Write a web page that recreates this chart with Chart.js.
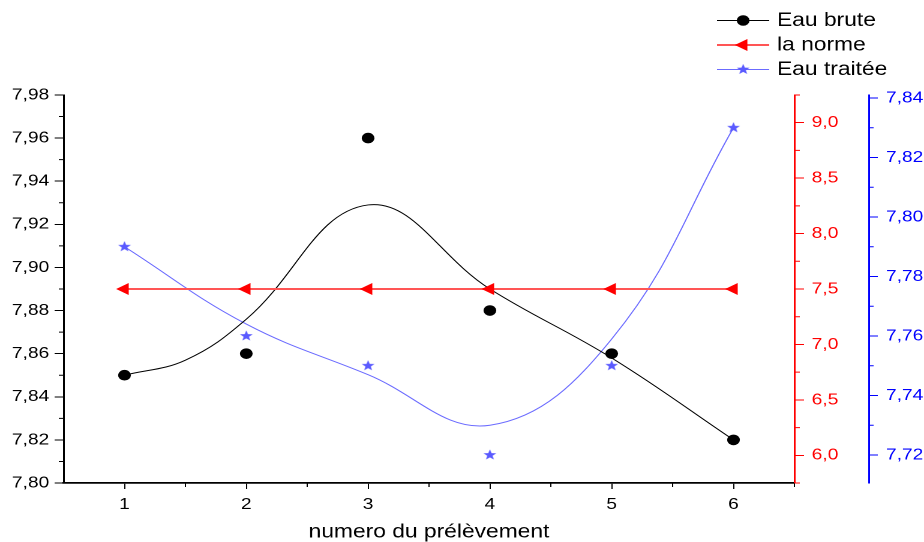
<!DOCTYPE html>
<html><head><meta charset="utf-8">
<script src="https://cdn.jsdelivr.net/npm/chart.js@4/dist/chart.umd.min.js"></script>
<style>
html,body{margin:0;padding:0;background:#fff;overflow:hidden;}
#wrap{position:absolute;left:0;top:0;width:770px;height:542px;transform:scaleX(1.2);transform-origin:0 0;}
canvas{display:block;}
</style></head><body>
<div id="wrap"><canvas id="c" width="770" height="542" style="width:770px;height:542px"></canvas></div>
<script>
// ---- data ----
const categories = [1, 2, 3, 4, 5, 6];
const eauBrute = [7.85, 7.86, 7.96, 7.88, 7.86, 7.82];
const laNorme = [7.5, 7.5, 7.5, 7.5, 7.5, 7.5];
const eauTraitee = [7.79, 7.76, 7.75, 7.72, 7.75, 7.83];
// smoothed curves drawn in the reference
const bruteFitX = [1, 1.5, 2, 3, 4, 5, 6];
const eauBruteFit = [7.85, 7.857, 7.876, 7.929, 7.890, 7.858, 7.82];
const traiteeFitX = [1, 2, 3, 4, 5, 6];
const eauTraiteeFit = [7.79, 7.764, 7.747, 7.730, 7.759, 7.83];
// ticks
const xTicks = [1, 2, 3, 4, 5, 6];
const xMinor = [1.5, 2.5, 3.5, 4.5, 5.5, 6.5];
const leftTicks = [7.80, 7.82, 7.84, 7.86, 7.88, 7.90, 7.92, 7.94, 7.96, 7.98];
const leftMinor = [7.81, 7.83, 7.85, 7.87, 7.89, 7.91, 7.93, 7.95, 7.97];
const redTicks = [6.0, 6.5, 7.0, 7.5, 8.0, 8.5, 9.0];
const redMinor = [5.75, 6.25, 6.75, 7.25, 7.75, 8.25, 8.75, 9.25];
const blueTicks = [7.72, 7.74, 7.76, 7.78, 7.80, 7.82, 7.84];
const blueMinor = [7.73, 7.75, 7.77, 7.79, 7.81, 7.83];
const seriesNames = ['Eau brute', 'la norme', 'Eau traitée'];
const xTitle = 'numero du prélèvement';

const FONT = 'Liberation Sans, Arial, sans-serif';
const BLUE_MARK = '#5a5aff';
const BLUE_LINE = '#6b6bff';
const RED_LINE = 'rgb(255,85,85)';

function makeStar(color, R) {
  const s = 4, size = Math.ceil(2 * R + 2);
  const c = document.createElement('canvas');
  c.width = size * s; c.height = size * s;
  const g = c.getContext('2d');
  g.scale(s, s); g.translate(size / 2, size / 2);
  g.beginPath();
  const r = R * 0.42;
  for (let i = 0; i < 10; i++) {
    const a = -Math.PI / 2 + i * Math.PI / 5;
    const rr = i % 2 ? r : R;
    g.lineTo(Math.cos(a) * rr, Math.sin(a) * rr);
  }
  g.closePath(); g.fillStyle = color; g.fill();
  const img = new Image();
  img.width = size; img.height = size;
  return new Promise(res => { img.onload = () => res(img); img.src = c.toDataURL(); });
}

const pts = (xs, ys) => xs.map((x, i) => ({x, y: ys[i]}));
const mk = vals => vals.map(v => ({value: v}));
const fmt = dec => v => Number(v).toFixed(dec).replace('.', ',');

makeStar(BLUE_MARK, 5.6).then(star => {
  const minorTicks = {x: xMinor, y: leftMinor, y2: redMinor, y3: blueMinor};
  const minorLen = {x: 4, y: 4, y2: 4.5, y3: 4};
  const minorColor = {x: '#000', y: '#000', y2: '#ff0000', y3: '#0000ff'};
  const minorPlugin = {
    id: 'minorTicks',
    afterDraw(chart) {
      const ctx = chart.ctx;
      ctx.save(); ctx.lineWidth = 1;
      for (const id in minorTicks) {
        const sc = chart.scales[id];
        ctx.strokeStyle = minorColor[id];
        ctx.beginPath();
        for (const v of minorTicks[id]) {
          const p = sc.getPixelForValue(v);
          if (id === 'x') { ctx.moveTo(p, sc.top); ctx.lineTo(p, sc.top + minorLen.x); }
          else if (id === 'y') { ctx.moveTo(sc.right - minorLen.y, p); ctx.lineTo(sc.right, p); }
          else { ctx.moveTo(sc.left, p); ctx.lineTo(sc.left + minorLen[id], p); }
        }
        ctx.stroke();
      }
      ctx.restore();
    }
  };
  const legendPlugin = {
    id: 'lineLegend',
    afterDraw(chart) {
      const ctx = chart.ctx;
      const rows = [20.5, 45, 69.5];
      const x0 = 597.5, x1 = 641, xm = 619.3, xt = 647.5;
      const items = chart.data.datasets.filter(d => d.inLegend);
      ctx.save();
      items.forEach((d, i) => {
        const y = rows[i];
        ctx.strokeStyle = d.legendLine; ctx.lineWidth = d.legendLineWidth;
        ctx.beginPath(); ctx.moveTo(x0, y); ctx.lineTo(x1, y); ctx.stroke();
        if (d.pointStyle === 'circle') {
          ctx.fillStyle = d.pointBackgroundColor;
          ctx.beginPath(); ctx.arc(xm, y, d.pointRadius, 0, Math.PI * 2); ctx.fill();
        } else if (d.pointStyle === 'triangle') {
          const r = d.pointRadius;
          ctx.fillStyle = d.pointBackgroundColor;
          ctx.beginPath();
          for (let k = 0; k < 3; k++) {
            const a = Math.PI + k * 2 * Math.PI / 3;
            ctx.lineTo(xm + Math.cos(a) * r, y + Math.sin(a) * r);
          }
          ctx.closePath(); ctx.fill();
        } else {
          const im = d.pointStyle;
          ctx.drawImage(im, xm - im.width / 2, y - im.height / 2, im.width, im.height);
        }
        ctx.fillStyle = '#000';
        ctx.font = '19px ' + FONT;
        ctx.textBaseline = 'middle';
        ctx.fillText(d.label, xt, y + 0.5);
      });
      ctx.restore();
    }
  };

  const tickFont = {family: FONT, size: 16};

  new Chart(document.getElementById('c'), {
    type: 'line',
    data: {
      datasets: [
        {label: seriesNames[0], inLegend: true, legendLine: '#000', legendLineWidth: 1,
         data: pts(categories, eauBrute), yAxisID: 'y', showLine: false,
         pointStyle: 'circle', pointRadius: 5.3, pointBackgroundColor: '#000', pointBorderColor: '#000', pointBorderWidth: 0, order: 0},
        {label: seriesNames[0] + ' fit', data: pts(bruteFitX, eauBruteFit), yAxisID: 'y',
         borderColor: '#000', borderWidth: 1, pointRadius: 0, tension: 0.4, order: 3},
        {label: seriesNames[1], inLegend: true, legendLine: RED_LINE, legendLineWidth: 2,
         data: pts(categories, laNorme), yAxisID: 'y2', borderColor: RED_LINE, borderWidth: 2,
         pointStyle: 'triangle', rotation: -90, pointRadius: 7, pointBackgroundColor: '#ff0000', pointBorderColor: '#ff0000', pointBorderWidth: 0, order: 1},
        {label: seriesNames[2], inLegend: true, legendLine: BLUE_LINE, legendLineWidth: 1,
         data: pts(categories, eauTraitee), yAxisID: 'y3', showLine: false,
         pointStyle: star, pointRadius: 5, order: 0},
        {label: seriesNames[2] + ' fit', data: pts(traiteeFitX, eauTraiteeFit), yAxisID: 'y3',
         borderColor: BLUE_LINE, borderWidth: 1, pointRadius: 0, tension: 0.4, order: 3}
      ]
    },
    options: {
      responsive: false, animation: false, devicePixelRatio: 2,
      layout: {padding: {top: 95, left: 0, right: 0, bottom: 0}},
      plugins: {legend: {display: false}, tooltip: {enabled: false}},
      scales: {
        x: {type: 'linear', min: 0.5, max: 6.5,
            afterBuildTicks: s => { s.ticks = mk(xTicks); },
            ticks: {font: tickFont, color: '#000', padding: 6, autoSkip: false, maxRotation: 0, callback: v => String(v)},
            grid: {display: true, drawOnChartArea: false, drawTicks: true, tickLength: 6, tickColor: '#000', tickWidth: 1},
            border: {display: true, color: '#000', width: 1.8},
            title: {display: true, text: xTitle, color: '#000', font: {family: FONT, size: 19, lineHeight: 1}, padding: 0},
            afterFit: s => { s.height = 59; }},
        y: {type: 'linear', position: 'left', min: 7.80, max: 7.98,
            afterBuildTicks: s => { s.ticks = mk(leftTicks); },
            ticks: {font: tickFont, color: '#000', padding: 4.5, autoSkip: false, callback: fmt(2)},
            grid: {display: true, drawOnChartArea: false, drawTicks: true, tickLength: 7.5, tickColor: '#000', tickWidth: 1},
            border: {display: true, color: '#000', width: 1.5},
            afterFit: s => { s.width = 53; }},
        y2: {type: 'linear', position: 'right', min: 5.75, max: 9.25,
            afterBuildTicks: s => { s.ticks = mk(redTicks); },
            ticks: {font: tickFont, color: '#ff0000', padding: 6.4, autoSkip: false, callback: fmt(1)},
            grid: {display: true, drawOnChartArea: false, drawTicks: true, tickLength: 8, tickColor: '#ff0000', tickWidth: 1},
            border: {display: true, color: '#ff0000', width: 1.5},
            afterFit: s => { s.width = 62; }},
        y3: {type: 'linear', position: 'right', min: 7.7106, max: 7.841,
            afterBuildTicks: s => { s.ticks = mk(blueTicks); },
            ticks: {font: tickFont, color: '#0000ff', padding: 6.8, autoSkip: false, callback: fmt(2)},
            grid: {display: true, drawOnChartArea: false, drawTicks: true, tickLength: 7.5, tickColor: '#0000ff', tickWidth: 1},
            border: {display: true, color: '#0000ff', width: 1.5},
            afterFit: s => { s.width = 46; }}
      }
    },
    plugins: [minorPlugin, legendPlugin]
  });
});
</script>
</body></html>
